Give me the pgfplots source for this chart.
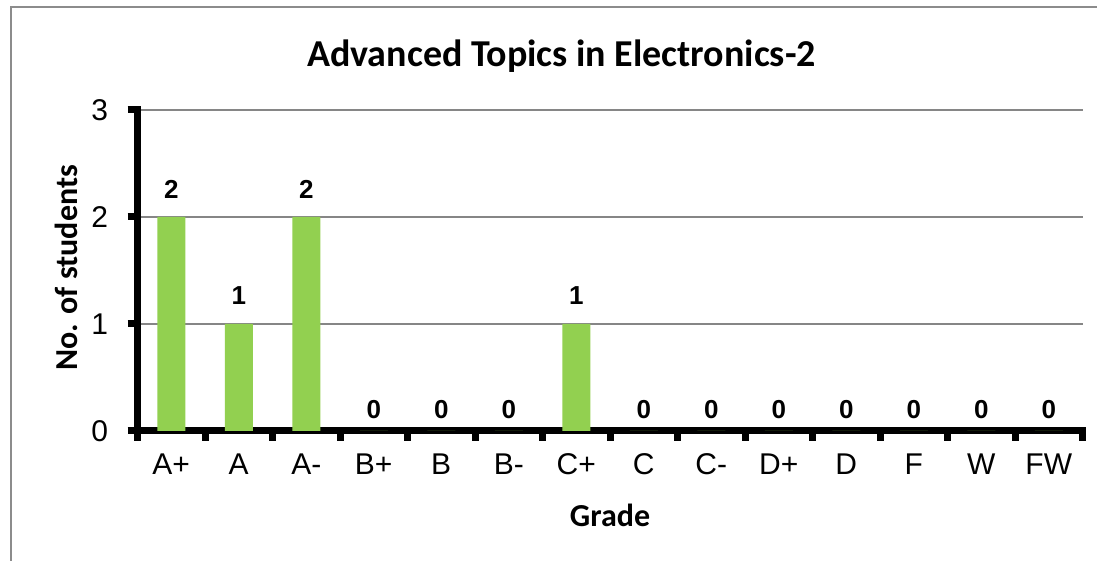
\documentclass[border=0pt]{standalone}
\usepackage{pgfplots}
\pgfplotsset{compat=1.18}
\usepackage{fontspec}
\setmainfont{Liberation Sans}
\newfontfamily\calib{Carlito}
\definecolor{bargreen}{HTML}{92D050}
\definecolor{gridgray}{HTML}{868686}
\definecolor{framegray}{HTML}{8C8C8C}
\begin{document}
\begin{tikzpicture}[x=1pt,y=1pt]
\path[use as bounding box] (0,0) rectangle (1097,561);
\draw[framegray, line width=2pt] (11,-20) -- (11,553.5) -- (1120,553.5);
\begin{axis}[
  at={(137.5pt,130pt)}, anchor=south west,
  scale only axis, width=945pt, height=321pt,
  xmin=-0.5, xmax=13.5, ymin=0, ymax=3,
  axis x line*=bottom, axis y line*=left,
  axis line style={line width=7pt, black, shorten <=-3.5pt, shorten >=-3.5pt},
  /pgf/number format/assume math mode=true,
  ytick={0,1,2,3},
  ymajorgrids, grid style={gridgray, line width=1.6pt},
  xtick={-0.5,0.5,...,13.5},
  x tick label as interval,
  xticklabels={A+,A,A-,B+,B,B-,C+,C,C-,D+,D,F,W,FW},
  major tick length=10pt,
  tick style={line width=7pt, black},
  tick align=outside,
  ticklabel style={font=\fontsize{30}{32}\selectfont},
  xticklabel style={yshift=-9pt},
  yticklabel style={xshift=-16pt},
  ybar, bar width=28pt,
  nodes near coords,
  visualization depends on={y \as \rawy},
  every node near coord/.append style={font=\fontsize{26}{28}\selectfont\bfseries, anchor=center, yshift={ifthenelse(\rawy==0,21,28)}},
  clip=false,
]
\addplot[fill=bargreen, draw=none] coordinates {(0,2) (1,1) (2,2) (3,0) (4,0) (5,0) (6,1) (7,0) (8,0) (9,0) (10,0) (11,0) (12,0) (13,0)};
\end{axis}
\node[font=\calib\bfseries\fontsize{38}{40}\selectfont] at (561.5,505) {Advanced Topics in Electronics-2};
\node[font=\calib\bfseries\fontsize{32}{34}\selectfont, rotate=90] at (66,293) {No. of students};
\node[font=\calib\bfseries\fontsize{32}{34}\selectfont] at (610,46) {Grade};
\end{tikzpicture}
\end{document}
